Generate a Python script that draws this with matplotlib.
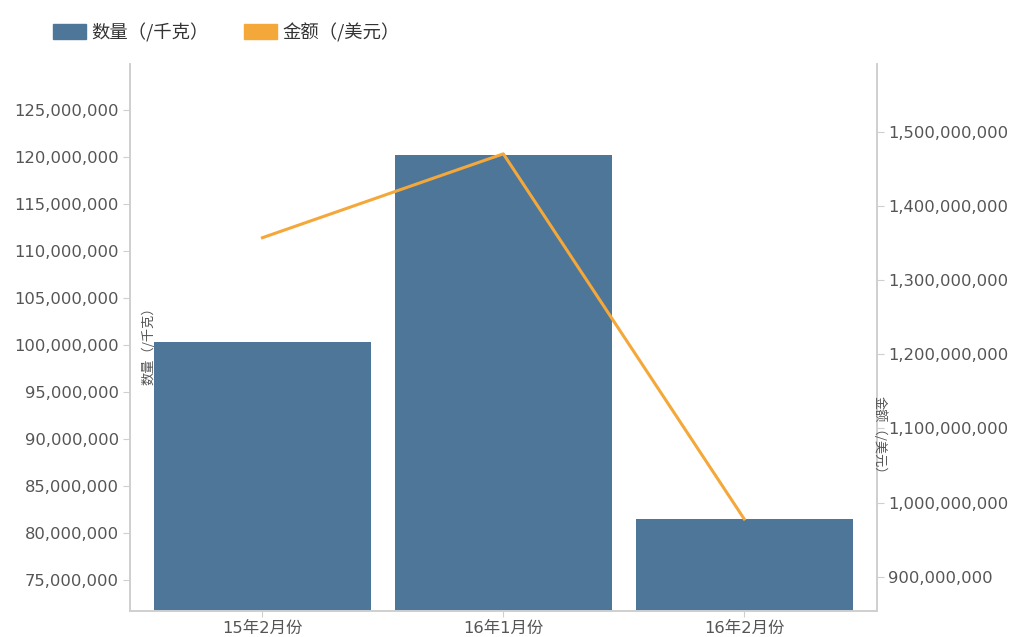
"""数量与金额对比：柱状图（左轴）+ 折线图（右轴）。"""
import matplotlib.pyplot as plt
import matplotlib.patches as mpatches
from matplotlib.ticker import FuncFormatter, FixedLocator

plt.rcParams['font.family'] = ['DejaVu Sans', 'Noto Sans CJK SC']

months = ["15年2月份", "16年1月份", "16年2月份"]
quantity = [100_300_000, 120_200_000, 81_500_000]        # 数量（/千克）
amount = [1_357_000_000, 1_470_000_000, 978_000_000]     # 金额（/美元）

left_ticks = [75e6, 80e6, 85e6, 90e6, 95e6, 100e6, 105e6, 110e6, 115e6, 120e6, 125e6]
right_ticks = [900e6, 1000e6, 1100e6, 1200e6, 1300e6, 1400e6, 1500e6]

bar_color = "#4e7698"
line_color = "#f5a83a"
axis_color = "#cfcfcf"
text_color = "#555555"
cjk = ['Noto Sans CJK SC', 'DejaVu Sans']

fig = plt.figure(figsize=(10.1, 6.37), dpi=100)
ax = fig.add_axes([0.1287, 0.0408, 0.7393, 0.8587])
ax2 = ax.twinx()

x = range(len(months))
ax.bar(x, quantity, width=0.9, color=bar_color, zorder=2)
ax2.plot(x, amount, color=line_color, lw=2.2, zorder=3)

ax.set_xlim(-0.55, 2.55)
ax.set_ylim(71.7e6, 129.9e6)
ax2.set_ylim(854e6, 1591e6)

fmt = FuncFormatter(lambda v, _: f"{v:,.0f}")
ax.yaxis.set_major_locator(FixedLocator(left_ticks))
ax2.yaxis.set_major_locator(FixedLocator(right_ticks))
ax.yaxis.set_major_formatter(fmt)
ax2.yaxis.set_major_formatter(fmt)
ax.set_xticks(list(x))
ax.set_xticklabels(months)

for a in (ax, ax2):
    a.spines["top"].set_visible(False)
    for s in ("left", "right", "bottom"):
        a.spines[s].set_color(axis_color)
        a.spines[s].set_linewidth(1.2)
    a.tick_params(colors=axis_color, labelcolor=text_color, labelsize=11.8, length=5, pad=3)
ax.tick_params(axis="x", labelsize=11.8, length=4, pad=3)

# 轴标题放在绘图区内侧
ax.text(0.025, 0.49, "数量（/千克）", transform=ax.transAxes, rotation=90,
        ha="center", va="center", fontsize=9.5, color=text_color, family=cjk)
ax2.text(1.004, 0.316, "金额（/美元）", transform=ax.transAxes, rotation=270,
         ha="center", va="center", fontsize=9.5, color=text_color, family=cjk)

handles = [mpatches.Patch(color=bar_color, label="数量（/千克）"),
           mpatches.Patch(color=line_color, label="金额（/美元）")]
fig.legend(handles=handles, loc="upper left", bbox_to_anchor=(0.036, 0.99), ncol=2,
           frameon=False, prop={'family': cjk, 'size': 13.2}, handlelength=1.8,
           handleheight=0.9, handletextpad=0.3, columnspacing=1.9,
           labelcolor="#333333")

fig.savefig("out.png", dpi=100)
